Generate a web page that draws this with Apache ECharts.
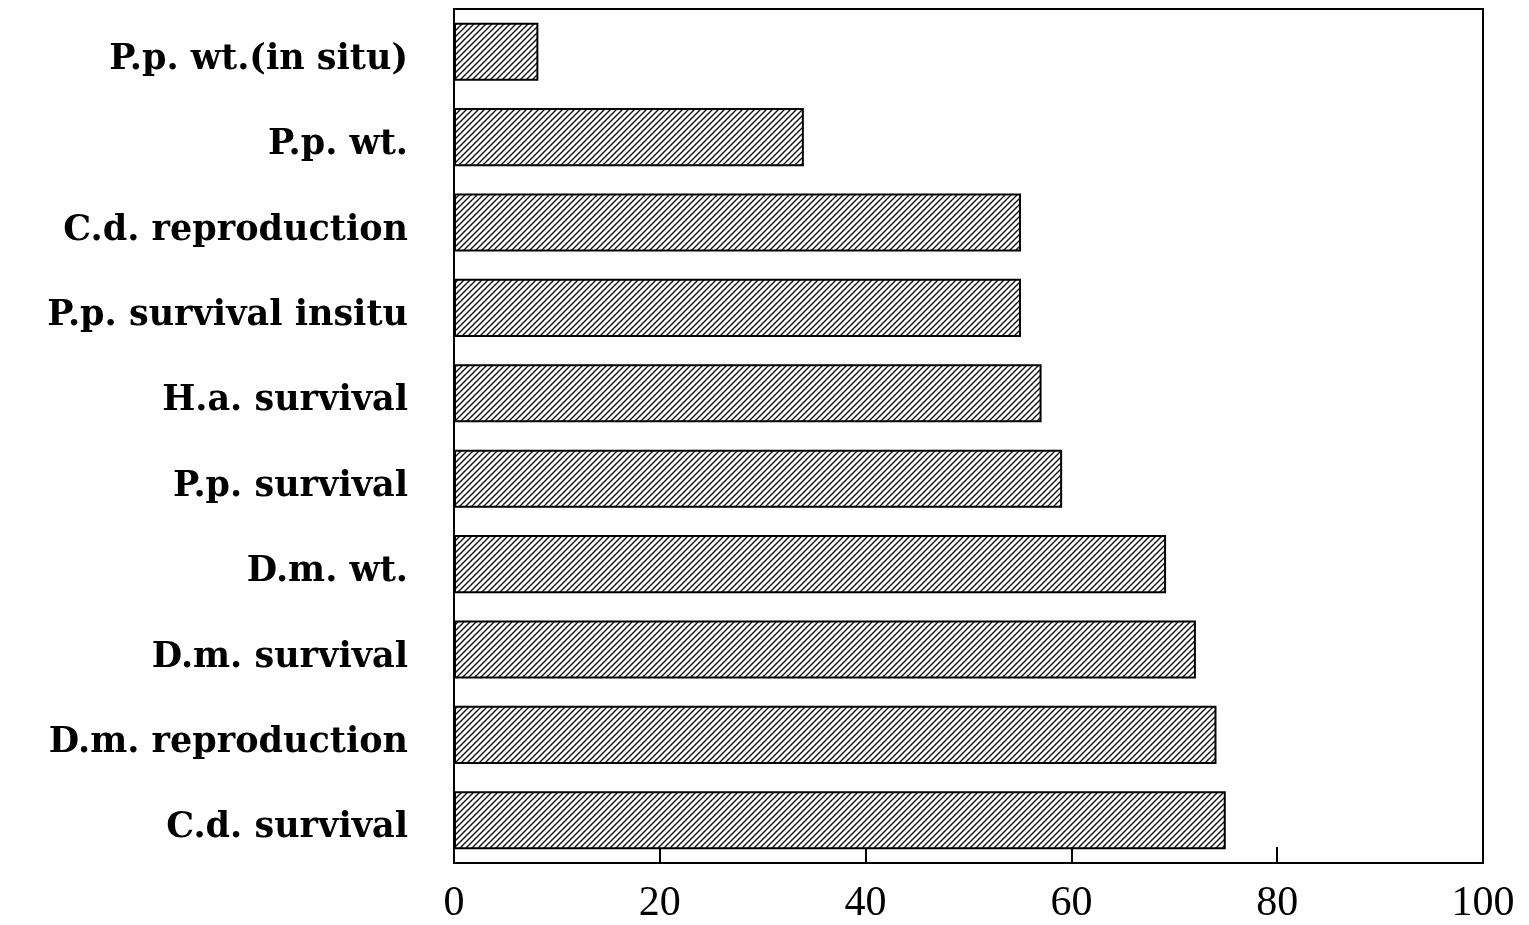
<!DOCTYPE html>
<html><head><meta charset="utf-8">
<script src="https://cdn.jsdelivr.net/npm/echarts@6/dist/echarts.min.js"></script>
<style>html,body{margin:0;padding:0;background:#fff}#c{width:1529px;height:925px}</style>
</head><body><div id="c"></div>
<script>
const categories = ["P.p. wt.(in situ)","P.p. wt.","C.d. reproduction","P.p. survival insitu","H.a. survival","P.p. survival","D.m. wt.","D.m. survival","D.m. reproduction","C.d. survival"];
const values = [8.2, 34, 55.1, 55.1, 57.1, 59.1, 69.2, 72.1, 74.1, 75];
const xTicks = [0, 20, 40, 60, 80, 100];

function hatch(){
  const c = document.createElement('canvas');
  c.width = 6; c.height = 6;
  const g = c.getContext('2d');
  g.fillStyle = '#fff'; g.fillRect(0,0,6,6);
  g.strokeStyle = '#111'; g.lineWidth = 1.4;
  g.beginPath();
  g.moveTo(-1,7); g.lineTo(7,-1);
  g.moveTo(-4,4); g.lineTo(4,-4);
  g.moveTo(2,10); g.lineTo(10,2);
  g.stroke();
  return c;
}
const chart = echarts.init(document.getElementById('c'));
chart.setOption({
  animation:false,
  backgroundColor:'#fff',
  grid:{left:454,right:46,top:9,bottom:62,show:true,borderColor:'#000',borderWidth:2,backgroundColor:'transparent'},
  xAxis:{type:'value',min:0,max:100,interval:20,
    axisLine:{show:true,lineStyle:{color:'#000',width:2}},
    axisTick:{show:true,inside:true,length:16,lineStyle:{color:'#000',width:2}},
    splitLine:{show:false},
    axisLabel:{color:'#000',fontSize:42,fontFamily:'Liberation Serif',margin:20,
      formatter:v=>xTicks.includes(v)?String(v):''}},
  yAxis:{type:'category',data:categories,inverse:true,
    axisLine:{show:true,lineStyle:{color:'#000',width:2}},
    axisTick:{show:true,inside:true,alignWithLabel:true,length:10,lineStyle:{color:'#000',width:2}},
    axisLabel:{margin:46,formatter:v=>'{a|'+v+'}',
      rich:{a:{color:'#000',fontSize:35,fontWeight:'bold',fontFamily:'DejaVu Serif',padding:[16,0,0,0]}}}},
  series:[{type:'bar',data:values,barCategoryGap:'32%',z:1,
    itemStyle:{color:{image:hatch(),repeat:'repeat'},borderColor:'#000',borderWidth:2}}]
});
</script></body></html>
